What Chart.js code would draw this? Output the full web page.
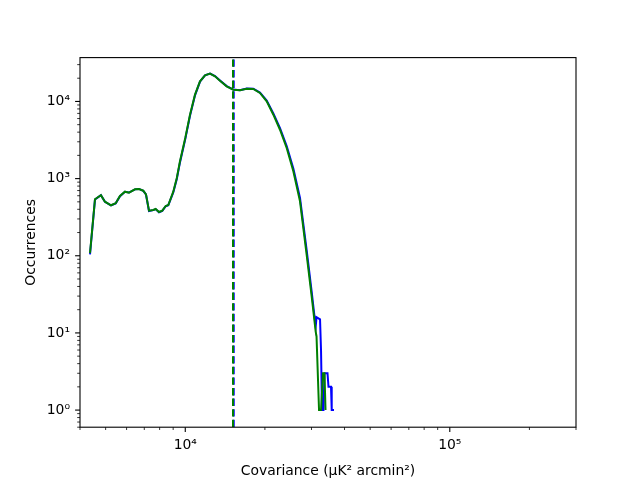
<!DOCTYPE html>
<html>
<head>
<meta charset="utf-8">
<script src="https://cdn.jsdelivr.net/npm/chart.js@4/dist/chart.umd.min.js"></script>
<style>
  body { margin: 0; background: #fff; }
  canvas { display: block; }
</style>
</head>
<body>
<canvas id="chart" width="640" height="480"></canvas>
<script>
// histogram values (bin centre, counts)
const covBody = [4364, 4557, 4800, 4970, 5238, 5458, 5665, 5916, 6127, 6455, 6683, 6938, 7104, 7293,
  7568, 7727, 7956, 8187, 8433, 8628, 9009, 9290, 9550, 10000, 10420, 10885, 11370, 11876, 12406,
  12955, 13530, 14340, 15190, 16100, 17070, 18080, 19160, 20320, 21530, 22810, 24180, 25620, 27150,
  28770, 30060, 31120];

const greenBody = [108, 540, 608, 502, 451, 479, 595, 677, 658, 727, 733, 697, 626, 384,
  392, 404, 369, 384, 442, 455, 677, 1019, 1676, 3360, 6730, 12240, 18240, 21830, 22910,
  21180, 18580, 15710, 14190, 13950, 14640, 14500, 12870, 10050, 6730, 4300, 2494, 1244, 508,
  103, 29.5, 10.4];

const blueBody = [104, 535, 610, 500, 450, 478, 592, 675, 660, 725, 735, 695, 622, 380,
  390, 402, 366, 382, 438, 452, 660, 990, 1620, 3250, 6500, 12000, 18100, 21800, 22950,
  21300, 18700, 15800, 14250, 14000, 14700, 14600, 13000, 10300, 7000, 4500, 2650, 1350, 560,
  118, 34, 12];

// noisy tails
const covGreenTail = [31350, 32040, 32600, 33170, 33600, 33900];
const greenTail = [9, 1, 1, 3, 3, 1];
const covBlueTail = [31350, 32320, 32600, 32880, 33310, 33600, 34490, 34790, 35560, 35780, 36500];
const blueTail = [16, 15, 6, 1, 1, 3, 3, 2, 2, 1, 1];

// vertical markers
const blueMark = 15250;
const greenMark = 15150;

const xTicks = [10000, 100000];
const yTicks = [1, 10, 100, 1000, 10000];
const sup = { 0: '⁰', 1: '¹', 2: '²', 3: '³', 4: '⁴', 5: '⁵' };

const xMin = 4000, xMax = 300000, yMin = 0.6, yMax = 37000;

function pts(xs, ys) {
  return xs.map((x, i) => ({ x: x, y: ys[i] }));
}
function expLabel(v) {
  return '10' + sup[Math.round(Math.log10(v))];
}
function minors(lo, hi) {
  const out = [];
  for (let e = Math.floor(Math.log10(lo)); e <= Math.ceil(Math.log10(hi)); e++) {
    for (let m = 1; m < 10; m++) {
      const v = m * Math.pow(10, e);
      if (v >= lo * 0.999 && v <= hi * 1.001) out.push({ v: v, major: m === 1 });
    }
  }
  return out;
}

const font = { family: 'DejaVu Sans', size: 13.9 };

// frame + outward ticks like matplotlib
const axesPlugin = {
  id: 'axesFrame',
  afterDraw(chart) {
    const { ctx, chartArea: a, scales } = chart;
    ctx.save();
    ctx.strokeStyle = '#000';
    ctx.lineWidth = 1.1;
    ctx.strokeRect(a.left, a.top, a.right - a.left, a.bottom - a.top);
    minors(xMin, xMax).forEach(t => {
      const px = scales.x.getPixelForValue(t.v);
      ctx.lineWidth = t.major ? 1.1 : 0.8;
      ctx.beginPath();
      ctx.moveTo(px, a.bottom);
      ctx.lineTo(px, a.bottom + (t.major ? 4.9 : 2.8));
      ctx.stroke();
    });
    minors(yMin, yMax).forEach(t => {
      const py = scales.y.getPixelForValue(t.v);
      ctx.lineWidth = t.major ? 1.1 : 0.8;
      ctx.beginPath();
      ctx.moveTo(a.left, py);
      ctx.lineTo(a.left - (t.major ? 4.9 : 2.8), py);
      ctx.stroke();
    });
    ctx.restore();
  }
};

new Chart(document.getElementById('chart'), {
  type: 'line',
  data: {
    datasets: [
      {
        data: [{ x: greenMark, y: yMin }, { x: greenMark, y: yMax }],
        borderColor: '#008000', borderWidth: 2, borderDash: [7.4, 3.2]
      },
      {
        data: [{ x: blueMark, y: yMin }, { x: blueMark, y: yMax }],
        borderColor: '#0000ff', borderWidth: 2, borderDash: [7.4, 3.2]
      },
      {
        data: pts(covBody.concat(covGreenTail), greenBody.concat(greenTail)),
        borderColor: '#008000', borderWidth: 2
      },
      {
        data: pts(covBody.concat(covBlueTail), blueBody.concat(blueTail)),
        borderColor: '#0000ff', borderWidth: 2
      }
    ]
  },
  options: {
    responsive: false,
    animation: false,
    devicePixelRatio: 1,
    layout: { padding: { top: 57.6, right: 64, left: 0, bottom: 0 } },
    elements: { point: { radius: 0 }, line: { tension: 0, fill: false } },
    plugins: { legend: { display: false }, tooltip: { enabled: false } },
    scales: {
      x: {
        type: 'logarithmic',
        position: 'bottom',
        min: xMin, max: xMax,
        grid: { display: false, drawTicks: false },
        border: { display: false },
        afterBuildTicks: s => { s.ticks = xTicks.map(v => ({ value: v })); },
        afterFit: s => { s.height = 52.8; },
        ticks: {
          color: '#000', font: font, padding: 10, autoSkip: false, maxRotation: 0,
          callback: v => expLabel(v)
        },
        title: {
          display: true, text: 'Covariance (μK² arcmin²)', color: '#000', font: font,
          padding: { top: 0, bottom: 0 }
        }
      },
      y: {
        type: 'logarithmic',
        position: 'left',
        min: yMin, max: yMax,
        grid: { display: false, drawTicks: false },
        border: { display: false },
        afterBuildTicks: s => { s.ticks = yTicks.map(v => ({ value: v })); },
        afterFit: s => { s.width = 80; },
        ticks: {
          color: '#000', font: font, padding: 10, autoSkip: false,
          callback: v => expLabel(v)
        },
        title: {
          display: true, text: 'Occurrences', color: '#000', font: font,
          padding: { top: 23, bottom: 0 }
        }
      }
    }
  },
  plugins: [axesPlugin]
});
</script>
</body>
</html>
